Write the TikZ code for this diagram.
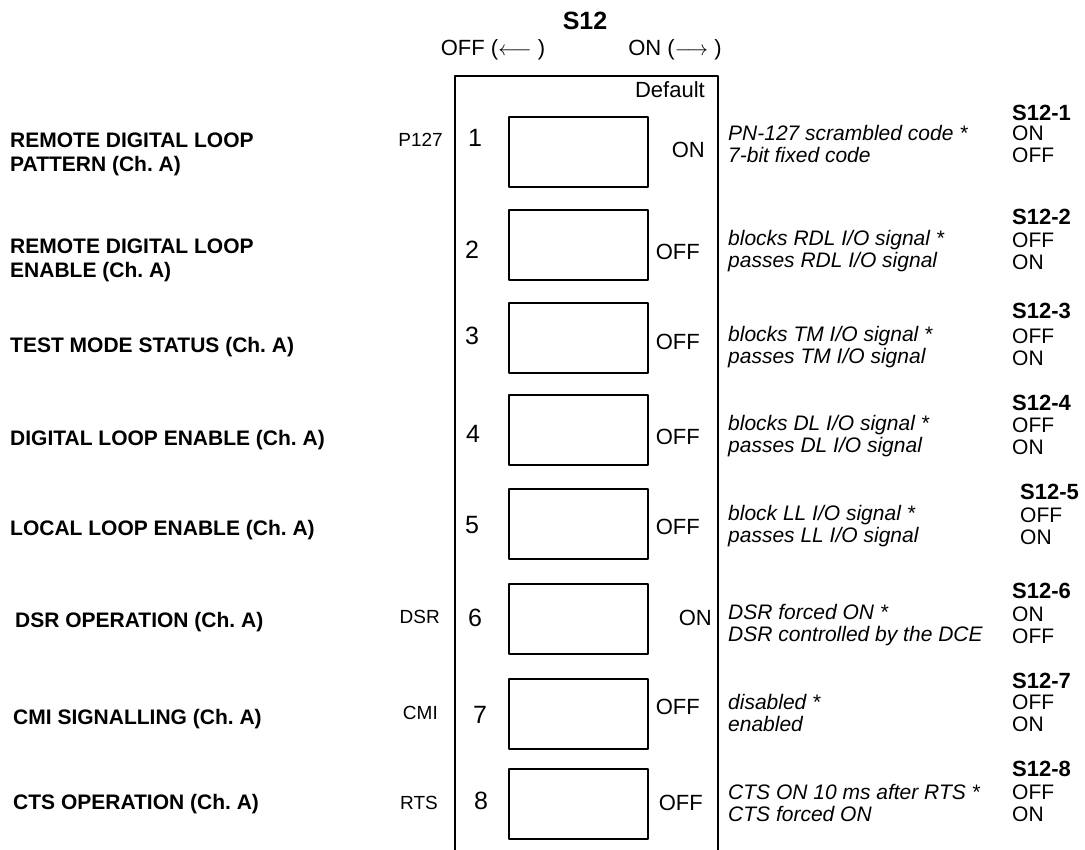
\documentclass[tikz,border=0pt]{standalone}
\usepackage{fontspec}
\setmainfont{Liberation Sans}
\frenchspacing
\usetikzlibrary{positioning}
\tikzset{
  swbox/.style={draw, line width=2pt, minimum width=139pt, minimum height=70pt, inner sep=0pt, anchor=north west},
  fnlabel/.style={anchor=west, align=left, inner sep=0pt, font=\fontsize{21}{24}\selectfont\bfseries},
  sigcode/.style={anchor=east, inner sep=0pt, font=\fontsize{19}{22}\selectfont},
  swnum/.style={inner sep=0pt, font=\fontsize{25}{28}\selectfont},
  defval/.style={anchor=east, inner sep=0pt, font=\fontsize{22}{24}\selectfont},
  optdesc/.style={anchor=west, align=left, inner sep=0pt, font=\fontsize{21}{22}\selectfont\itshape},
  optset/.style={anchor=west, align=left, inner sep=0pt, font=\fontsize{21}{22}\selectfont},
}
\begin{document}
\begin{tikzpicture}[x=1pt, y=-1pt, line join=round]
  \useasboundingbox (0,0) rectangle (1085,850);
  % header
  \node[inner sep=0pt, font=\fontsize{25}{28}\selectfont\bfseries] (title) at (585,21) {S12};
  \node[inner sep=0pt, font=\fontsize{22}{24}\selectfont] (offdir) at (493,50) {OFF ($\longleftarrow$ )};
  \node[inner sep=0pt, font=\fontsize{22}{24}\selectfont] (ondir) at (675,50) {ON ($\longrightarrow$ )};
  \draw[line width=2pt] (455,850) -- (455,76) -- (718,76) -- (718,850);
  \node[defval] (default) at (705,90) {Default};
  % switches
  \foreach \k/\top/\nx/\ny/\val/\vx/\vy in {1/116/475/138/ON/705/150, 2/209/472/250/OFF/700/252,
      3/302/472/336/OFF/700/342, 4/394/473/434/OFF/700/437, 5/488/472/525/OFF/700/527,
      6/583/475/618/ON/712/618, 7/678/480/715/OFF/700/707, 8/768/481/801/OFF/703/803}{
    \node[swbox] (sw\k) at (508,\top) {};
    \node[swnum] (num\k) at (\nx,\ny) {\k};
    \node[defval] (def\k) at (\vx,\vy) {\val};
  }
  % function names
  \node[fnlabel] (fn1) at (10,154) {REMOTE DIGITAL LOOP\\PATTERN (Ch. A)};
  \node[fnlabel] (fn2) at (10,260) {REMOTE DIGITAL LOOP\\ENABLE (Ch. A)};
  \node[fnlabel, anchor=base west] (fn3) at (10,353) {TEST MODE STATUS (Ch. A)};
  \node[fnlabel, anchor=base west] (fn4) at (10,445) {DIGITAL LOOP ENABLE (Ch. A)};
  \node[fnlabel, anchor=base west] (fn5) at (10,535) {LOCAL LOOP ENABLE (Ch. A)};
  \node[fnlabel, anchor=base west] (fn6) at (15,627) {DSR OPERATION (Ch. A)};
  \node[fnlabel, anchor=base west] (fn7) at (13,724) {CMI SIGNALLING (Ch. A)};
  \node[fnlabel, anchor=base west] (fn8) at (13,809) {CTS OPERATION (Ch. A)};
  \node[sigcode] (code1) at (443,140) {P127};
  \node[sigcode] (code6) at (440,617) {DSR};
  \node[sigcode] (code7) at (438,713) {CMI};
  \node[sigcode] (code8) at (438,803) {RTS};
  % settings
  \node[optdesc] (desc1) at (728,144) {PN-127 scrambled code *\\7-bit fixed code};
  \node[optdesc] (desc2) at (728,251) {blocks RDL I/O signal *\\passes RDL I/O signal};
  \node[optdesc] (desc3) at (728,347) {blocks TM I/O signal *\\passes TM I/O signal};
  \node[optdesc] (desc4) at (728,436) {blocks DL I/O signal *\\passes DL I/O signal};
  \node[optdesc] (desc5) at (728,526) {block LL I/O signal *\\passes LL I/O signal};
  \node[optdesc] (desc6) at (728,625) {DSR forced ON *\\DSR controlled by the DCE};
  \node[optdesc] (desc7) at (728,713) {disabled *\\enabled};
  \node[optdesc] (desc8) at (728,803) {CTS ON 10 ms after RTS *\\CTS forced ON};
  \foreach \k/\ox/\ty/\dy/\on/\off in {1/1012/113/131/ON/OFF, 2/1012/217/238/OFF/ON,
      3/1012/311/334/OFF/ON, 4/1012/402/423/OFF/ON, 5/1020/491/513/OFF/ON,
      6/1012/590/612/ON/OFF, 7/1012/680/700/OFF/ON, 8/1012/768/790/OFF/ON}{
    \node[optset, anchor=base west, font=\fontsize{22}{22}\selectfont\bfseries] (sel\k) at (\ox,\ty+8) {S12-\k};
    \node[optset] (opt\k) at (\ox,\dy+13) {\on\\\off};
  }
\end{tikzpicture}
\end{document}
